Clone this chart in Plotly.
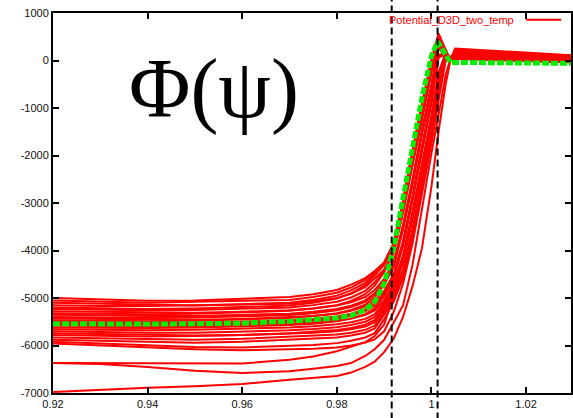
import plotly.graph_objects as go

# ---------------- data ----------------
xr = [0.92, 0.93, 0.94, 0.95, 0.96, 0.97, 0.975, 0.98, 0.983, 0.986, 0.988,
      0.99, 0.992, 0.994, 0.996, 0.998, 1.0, 1.0015, 1.003, 1.004, 1.005, 1.03]

r01 = [-5000, -5030, -5060, -5050, -5020, -4980, -4920, -4830, -4720, -4580, -4430, -4250, -3850, -2950, -1900, -900, 0, 520, 200, 20, 230, 100]
r02 = [-5050, -5080, -5100, -5080, -5060, -5040, -4980, -4890, -4780, -4620, -4460, -4260, -3850, -2950, -1900, -900, 20, 570, 250, 0, 250, 110]
r03 = [-5100, -5120, -5150, -5160, -5130, -5100, -5040, -4950, -4840, -4680, -4500, -4280, -3880, -2980, -1930, -930, -20, 500, 180, 30, 200, 90]
r04 = [-5150, -5170, -5170, -5150, -5140, -5120, -5070, -5000, -4910, -4770, -4590, -4400, -4000, -3150, -2150, -1150, -200, 420, 150, 0, 180, 70]
r05 = [-5200, -5210, -5230, -5220, -5190, -5160, -5100, -5010, -4900, -4730, -4530, -4300, -3900, -3000, -1950, -950, -50, 480, 220, 10, 210, 80]
r06 = [-5230, -5250, -5260, -5250, -5230, -5200, -5150, -5080, -4990, -4850, -4670, -4430, -4030, -3180, -2180, -1180, -230, 400, 130, 10, 170, 60]
r07 = [-5280, -5290, -5300, -5310, -5290, -5260, -5220, -5160, -5090, -4980, -4830, -4600, -4250, -3450, -2500, -1450, -500, 330, 130, 0, 160, 50]
r08 = [-5320, -5330, -5340, -5330, -5300, -5270, -5220, -5150, -5060, -4920, -4740, -4460, -4060, -3200, -2200, -1200, -250, 380, 140, 20, 170, 60]
r09 = [-5350, -5370, -5380, -5380, -5360, -5330, -5290, -5230, -5160, -5050, -4900, -4650, -4300, -3500, -2550, -1500, -550, 300, 120, 10, 150, 50]
r10 = [-5400, -5410, -5420, -5410, -5390, -5360, -5320, -5260, -5190, -5080, -4930, -4680, -4330, -3530, -2580, -1530, -580, 280, 100, 0, 140, 40]
r11 = [-5430, -5440, -5460, -5460, -5440, -5410, -5380, -5330, -5270, -5180, -5060, -4850, -4500, -3800, -2850, -1800, -800, 120, 150, 30, 130, 30]
r12 = [-5470, -5480, -5490, -5480, -5450, -5420, -5380, -5320, -5250, -5140, -4990, -4720, -4350, -3550, -2600, -1550, -600, 250, 100, 10, 140, 40]
r13 = [-5500, -5520, -5530, -5520, -5500, -5470, -5440, -5390, -5330, -5240, -5120, -4880, -4530, -3830, -2880, -1830, -830, 100, 150, 30, 120, 30]
r14 = [-5540, -5550, -5560, -5560, -5540, -5510, -5480, -5430, -5370, -5280, -5160, -4920, -4560, -3860, -2910, -1860, -860, 80, 140, 40, 120, 20]
r15 = [-5580, -5590, -5600, -5590, -5570, -5540, -5515, -5475, -5430, -5360, -5260, -5050, -4700, -4100, -3200, -2150, -1150, -250, 150, 60, 90, 10]
r16 = [-5620, -5630, -5630, -5620, -5600, -5570, -5540, -5490, -5430, -5340, -5220, -4970, -4600, -3900, -2950, -1900, -900, 60, 130, 30, 110, 20]
r17 = [-5660, -5670, -5680, -5670, -5650, -5620, -5595, -5555, -5510, -5440, -5340, -5100, -4750, -4150, -3250, -2200, -1200, -300, 150, 60, 90, 10]
r18 = [-5700, -5720, -5730, -5730, -5710, -5680, -5655, -5615, -5570, -5500, -5400, -5150, -4800, -4200, -3300, -2250, -1250, -350, 140, 60, 80, 0]
r19 = [-5740, -5760, -5780, -5790, -5780, -5750, -5730, -5700, -5660, -5600, -5510, -5250, -4900, -4400, -3550, -2500, -1450, -550, 80, 80, 60, -20]
r20 = [-5780, -5800, -5810, -5800, -5780, -5740, -5715, -5675, -5630, -5560, -5460, -5200, -4850, -4250, -3350, -2300, -1300, -400, 130, 70, 80, 0]
r21 = [-5830, -5850, -5870, -5880, -5860, -5820, -5800, -5770, -5730, -5670, -5580, -5300, -4950, -4450, -3600, -2550, -1500, -600, 60, 80, 50, -30]
r22 = [-5880, -5900, -5930, -5940, -5920, -5880, -5860, -5830, -5790, -5730, -5640, -5350, -5000, -4500, -3650, -2600, -1550, -650, 50, 70, 50, -30]
r23 = [-5920, -5960, -6000, -6030, -6040, -6010, -5990, -5950, -5900, -5830, -5740, -5450, -5080, -4580, -3750, -2700, -1650, -750, 30, 60, 40, -40]
r24 = [-5960, -6000, -6040, -6080, -6100, -6090, -6070, -6040, -6000, -5940, -5870, -5700, -5300, -4700, -3850, -2800, -1750, -850, 0, 50, 50, -30]
r25 = [-6370, -6370, -6380, -6380, -6380, -6300, -6230, -6120, -6020, -5930, -5800, -5560, -4950, -4150, -3200, -2200, -1250, -500, 80, 80, 60, -30]
r26 = [-6370, -6390, -6450, -6530, -6580, -6540, -6490, -6430, -6370, -6220, -6080, -5880, -5520, -5150, -4300, -3100, -1950, -1150, -300, 30, 40, -40]
r27 = [-6980, -6930, -6890, -6860, -6810, -6720, -6680, -6640, -6570, -6450, -6340, -6140, -5860, -5400, -4750, -3950, -2650, -1500, -500, 0, 30, -40]

xg = [0.92, 0.93, 0.94, 0.95, 0.96, 0.97, 0.975, 0.98, 0.983, 0.986, 0.988,
      0.99, 0.992, 0.994, 0.996, 0.998, 1.0, 1.0013, 1.004, 1.01, 1.02, 1.03]
yg = [-5540, -5550, -5550, -5540, -5530, -5490, -5460, -5420, -5370, -5250, -5080,
      -4700, -3950, -2850, -1750, -780, 100, 400, -40, -50, -55, -60]

vlines_x = [0.9916, 1.0013]

x_tickvals = [0.92, 0.94, 0.96, 0.98, 1.0, 1.02]
x_ticktext = ["0.92", "0.94", "0.96", "0.98", "1", "1.02"]
y_tickvals = [1000, 0, -1000, -2000, -3000, -4000, -5000, -6000, -7000]
y_ticktext = ["1000", "0", "-1000", "-2000", "-3000", "-4000", "-5000", "-6000", "-7000"]

legend_label = "Potential_D3D_two_temp"
title_text = "Φ(ψ)"

red_curves = [r01, r02, r03, r04, r05, r06, r07, r08, r09, r10, r11, r12, r13, r14,
              r15, r16, r17, r18, r19, r20, r21, r22, r23, r24, r25, r26, r27]

# ---------------- figure ----------------
fig = go.Figure()
for ys in red_curves:
    fig.add_trace(go.Scatter(x=xr, y=ys, mode="lines",
                             line=dict(color="#ff0000", width=2),
                             showlegend=False, hoverinfo="skip"))

fig.add_trace(go.Scatter(x=xg, y=yg, mode="lines",
                         line=dict(color="#00ee00", width=5, dash="7px,2px"),
                         showlegend=False, hoverinfo="skip"))

for xv in vlines_x:
    fig.add_shape(type="line", xref="x", yref="paper", x0=xv, x1=xv,
                  y0=-0.07, y1=1.04,
                  line=dict(color="black", width=2, dash="7px,4px"))

# legend drawn gnuplot-style (text then sample line)
fig.add_annotation(xref="paper", yref="paper", x=0.894, y=0.982,
                   xanchor="right", yanchor="middle", showarrow=False,
                   text=legend_label,
                   font=dict(family="Liberation Sans", size=11, color="#ff0000"))
fig.add_shape(type="line", xref="paper", yref="paper", x0=0.9135, x1=0.981,
              y0=0.982, y1=0.982, line=dict(color="#ff0000", width=2))

fig.add_annotation(xref="paper", yref="paper", x=0.31, y=0.80,
                   xanchor="center", yanchor="middle", showarrow=False,
                   text=title_text,
                   font=dict(family="Liberation Serif", size=84, color="black"))

axis_common = dict(showgrid=False, zeroline=False, showline=True, linecolor="black",
                   linewidth=2, mirror="ticks", ticks="inside", ticklen=6,
                   tickwidth=1.5, tickcolor="black",
                   tickfont=dict(family="Liberation Sans", size=11, color="#111111"))

fig.update_xaxes(range=[0.92, 1.0295], tickvals=x_tickvals, ticktext=x_ticktext,
                 **axis_common)
fig.update_yaxes(range=[-7000, 1000], tickvals=y_tickvals, ticktext=y_ticktext,
                 **axis_common)

fig.update_layout(width=573, height=418,
                  margin=dict(l=53, r=0, t=13, b=25, pad=0),
                  plot_bgcolor="white", paper_bgcolor="white")

fig.write_html("out.html", config={"displayModeBar": False},
               post_script="document.body.style.margin='0';document.body.style.overflow='hidden';")
